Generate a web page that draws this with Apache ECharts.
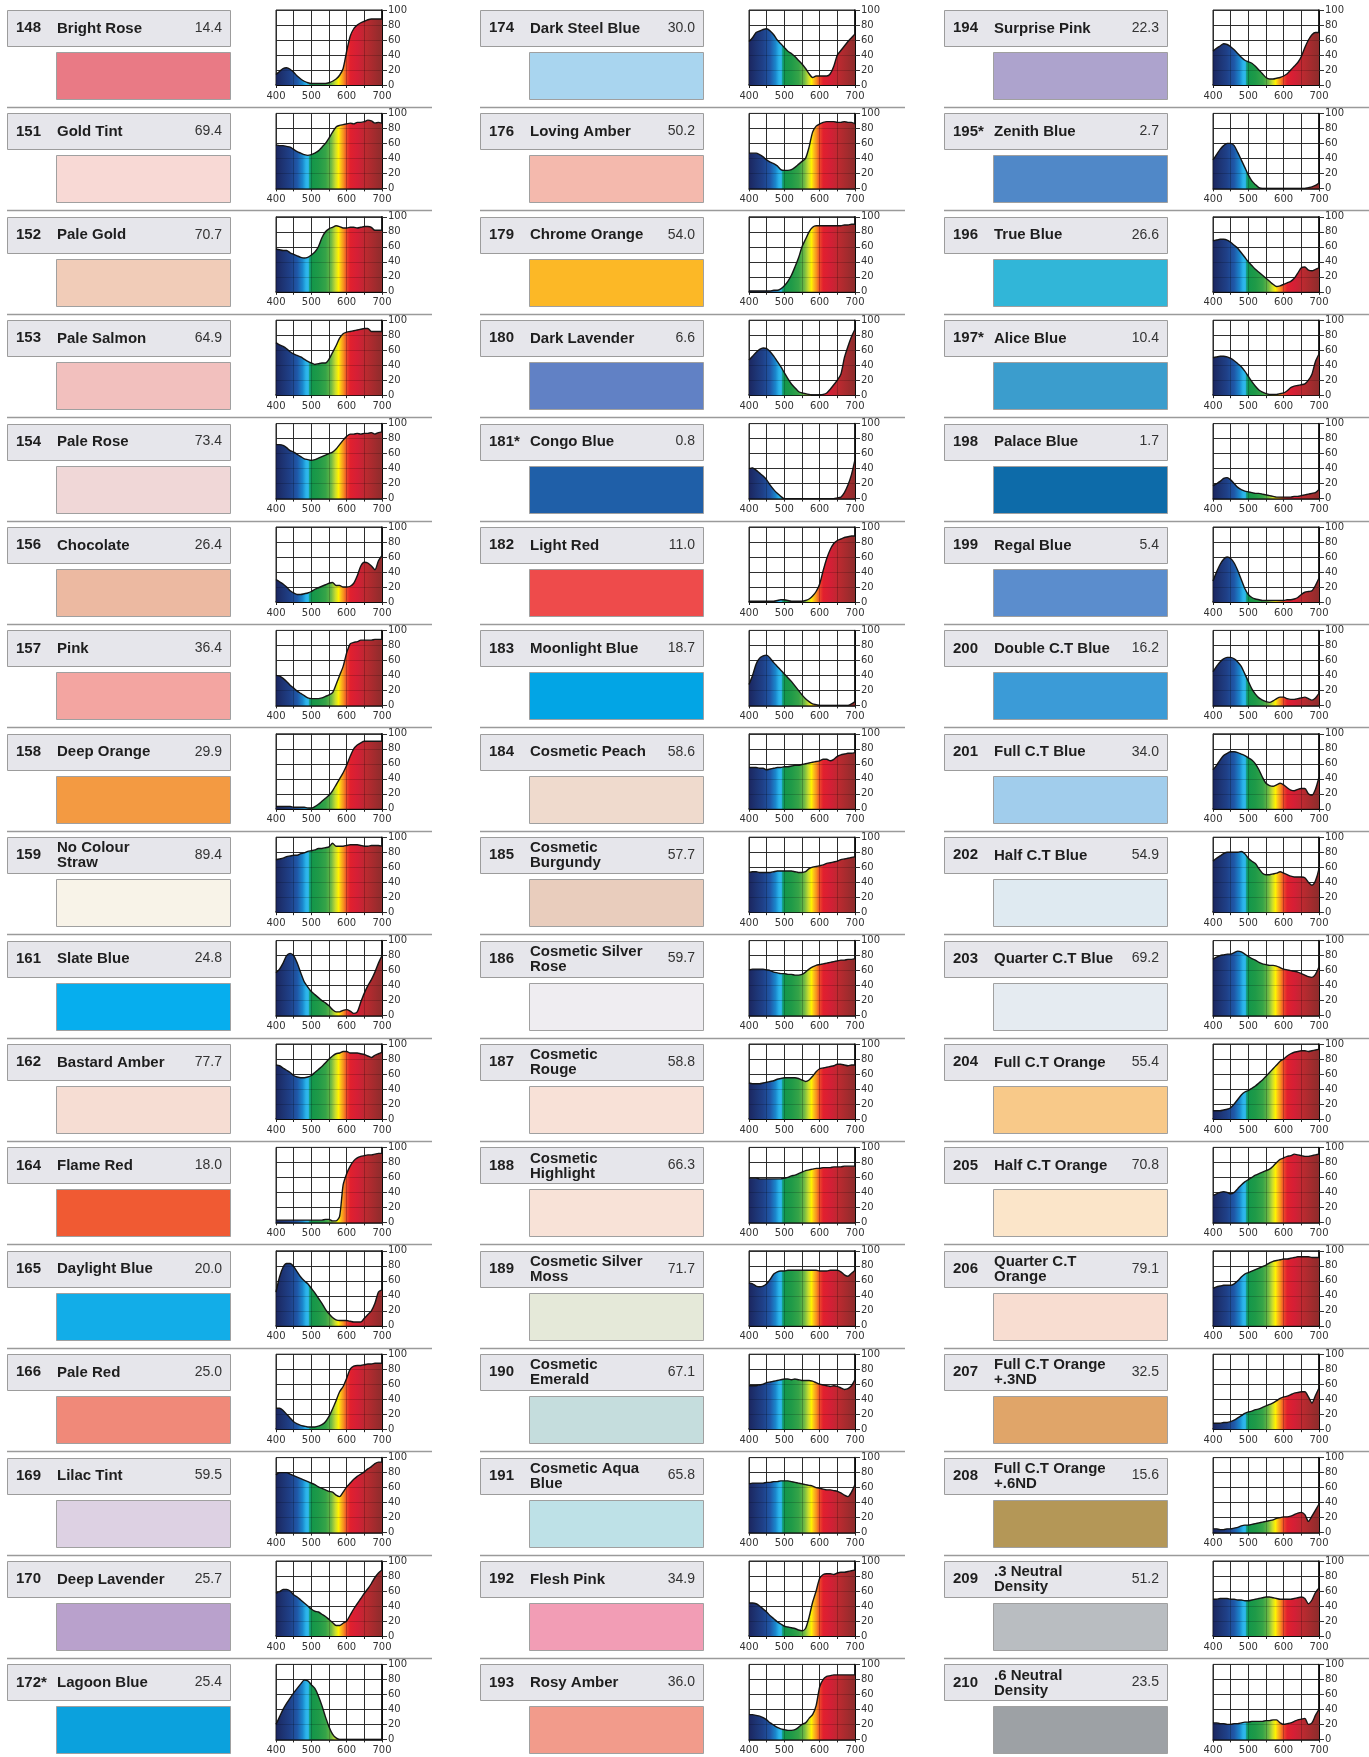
<!DOCTYPE html>
<html>
<head>
<meta charset="utf-8">
<script src="https://cdn.jsdelivr.net/npm/echarts@6/dist/echarts.min.js"></script>
<style>
html,body{margin:0;padding:0;background:#fff;}
#chart{width:1369px;height:1757px;}
</style>
</head>
<body>
<div id="chart"></div>
<script>
// ---------- DATA ----------
const wavelengths = [400,410,420,430,440,450,460,470,480,490,500,510,520,530,540,550,560,570,580,590,600,610,620,630,640,650,660,670,680,690,700];
const xTickLabels = [400, 500, 600, 700];
const yTickLabels = [0, 20, 40, 60, 80, 100];

const filterNumbers = [
  '148','151','152','153','154','156','157','158','159','161','162','164','165','166','169','170','172*',
  '174','176','179','180','181*','182','183','184','185','186','187','188','189','190','191','192','193',
  '194','195*','196','197*','198','199','200','201','202','203','204','205','206','207','208','209','210'
];
const filterNames = [
  'Bright Rose','Gold Tint','Pale Gold','Pale Salmon','Pale Rose','Chocolate','Pink','Deep Orange','No Colour\nStraw','Slate Blue','Bastard Amber','Flame Red','Daylight Blue','Pale Red','Lilac Tint','Deep Lavender','Lagoon Blue',
  'Dark Steel Blue','Loving Amber','Chrome Orange','Dark Lavender','Congo Blue','Light Red','Moonlight Blue','Cosmetic Peach','Cosmetic\nBurgundy','Cosmetic Silver\nRose','Cosmetic\nRouge','Cosmetic\nHighlight','Cosmetic Silver\nMoss','Cosmetic\nEmerald','Cosmetic Aqua\nBlue','Flesh Pink','Rosy Amber',
  'Surprise Pink','Zenith Blue','True Blue','Alice Blue','Palace Blue','Regal Blue','Double C.T Blue','Full C.T Blue','Half C.T Blue','Quarter C.T Blue','Full C.T Orange','Half C.T Orange','Quarter C.T\nOrange','Full C.T Orange\n+.3ND','Full C.T Orange\n+.6ND','.3 Neutral\nDensity','.6 Neutral\nDensity'
];
const transmissions = [
  '14.4','69.4','70.7','64.9','73.4','26.4','36.4','29.9','89.4','24.8','77.7','18.0','20.0','25.0','59.5','25.7','25.4',
  '30.0','50.2','54.0','6.6','0.8','11.0','18.7','58.6','57.7','59.7','58.8','66.3','71.7','67.1','65.8','34.9','36.0',
  '22.3','2.7','26.6','10.4','1.7','5.4','16.2','34.0','54.9','69.2','55.4','70.8','79.1','32.5','15.6','51.2','23.5'
];
const swatchColors = [
  '#e97a85','#f8d9d5','#f1ccb8','#f2c0be','#f0d7d7','#ecb9a1','#f3a5a1','#f39a42','#f8f3e8','#06aeee','#f6ddd3','#f05a33','#12ade8','#f08979','#ddd1e3','#b9a1cc','#0ba1dd',
  '#a9d5ef','#f4b9ad','#fcb826','#6181c5','#1f5fa8','#ee4b4b','#02a5e5','#efdacd','#e9cdbd','#efedf1','#f8e1d7','#f8e2d7','#e5e9d9','#c5dddd','#bee1e7','#f29db5','#f29b8b',
  '#ada3cd','#5088c8','#31b6d8','#3b9dcd','#0d6ba9','#5b8dcd','#3b9bd7','#a1cdec','#dfeaf1','#e5ebf1','#f8c989','#fbe5c9','#f8ddd1','#e0a569','#b49757','#b9bdc1','#9da1a5'
];
const curves = [
  [14,18,22,23,21,17,12,8,5,3,2,2,2,2,2,3,5,8,13,22,45,65,75,80,83,85,87,88,88,88,88],
  [58,57,57,56,55,52,49,47,45,44,45,47,50,55,60,67,75,82,84,85,86,87,86,88,88,89,91,90,87,88,87],
  [57,56,55,55,52,50,48,46,45,46,49,53,60,72,80,84,86,88,87,85,85,86,86,85,86,87,87,86,82,82,82],
  [70,67,65,62,58,55,53,51,48,45,43,41,42,43,43,48,57,66,76,82,84,85,86,87,88,89,89,85,85,85,85],
  [72,72,71,68,64,62,59,56,53,52,51,52,54,56,58,60,62,66,72,78,83,86,86,87,86,87,87,88,86,88,89],
  [30,27,24,20,15,12,10,10,11,12,14,17,19,21,23,25,26,22,22,20,20,21,25,35,48,53,52,48,43,55,62],
  [40,39,36,32,27,23,19,16,13,10,9,9,9,10,12,14,17,28,40,52,70,82,84,85,87,87,87,87,88,88,88],
  [3,3,3,3,3,2,2,2,2,1,1,3,6,10,14,18,24,32,40,48,58,70,80,85,88,90,90,90,90,90,90],
  [70,71,72,74,75,76,76,78,79,81,82,83,85,85,86,87,92,88,88,88,89,90,90,90,89,88,88,89,89,89,88],
  [57,62,70,80,83,80,70,57,45,38,32,28,24,20,17,13,8,5,5,7,8,6,3,5,18,30,40,48,58,70,80],
  [72,71,68,65,62,58,56,55,55,56,58,62,66,70,75,80,84,87,88,90,90,88,88,88,87,86,84,82,85,87,89],
  [3,3,3,3,3,3,3,3,3,3,3,3,3,3,4,4,2,2,8,50,65,75,82,86,88,89,90,90,91,92,92],
  [45,65,78,83,83,79,72,65,60,56,50,44,37,30,22,16,11,8,7,7,7,6,5,5,5,10,15,20,30,45,48],
  [28,28,25,20,15,10,7,5,4,3,3,3,4,6,10,17,27,38,50,57,68,80,84,85,85,86,87,87,88,88,88],
  [77,80,80,80,78,76,74,72,70,68,66,64,61,59,57,55,54,50,48,54,61,66,71,75,78,81,85,88,92,94,94],
  [57,59,62,62,60,55,52,48,44,40,36,33,32,29,26,22,18,14,14,17,20,28,36,43,50,57,63,70,78,84,88],
  [20,30,40,48,55,62,68,74,79,78,73,68,58,45,30,17,7,2,0,0,0,0,0,0,0,0,0,0,0,0,0],

  [58,63,70,72,74,75,72,67,60,55,50,45,42,38,33,28,22,15,10,12,12,12,12,15,25,40,46,52,58,63,68],
  [47,47,47,45,42,38,35,33,30,25,24,24,25,28,32,36,40,55,75,83,86,88,89,89,89,88,88,89,88,88,86],
  [1,1,1,1,1,1,1,2,2,4,8,14,22,33,45,60,70,80,86,88,88,88,88,88,88,88,88,89,89,90,90],
  [47,52,57,61,63,62,58,52,45,38,30,22,15,10,5,3,2,1,0,0,0,1,3,8,14,20,28,50,65,78,88],
  [40,41,38,34,30,25,18,12,7,3,0,0,0,0,0,0,0,0,0,0,0,0,0,0,0,1,2,8,18,32,52],
  [1,1,1,1,1,1,1,1,2,3,3,2,1,1,1,1,2,4,8,14,24,42,58,70,78,82,84,86,87,88,88],
  [28,40,55,63,66,67,63,57,52,47,42,37,32,26,20,14,9,5,2,1,0,0,0,0,0,0,0,0,0,2,5],
  [55,55,55,54,54,52,53,54,55,55,56,56,57,58,58,59,60,61,62,63,64,66,66,64,66,70,72,73,74,74,75],
  [53,54,54,53,53,53,53,54,55,55,55,55,55,54,53,53,54,58,60,61,62,63,65,66,67,68,70,71,72,73,74],
  [61,62,62,62,62,61,60,58,57,56,56,55,55,54,54,55,58,62,65,67,68,69,70,71,72,73,74,74,75,75,76],
  [48,47,47,47,48,49,50,51,53,54,55,55,55,55,54,52,50,52,57,63,67,68,69,70,71,73,73,72,71,72,72],
  [59,59,59,58,58,58,58,58,58,58,59,60,62,63,65,67,69,70,71,72,72,73,73,73,74,74,74,75,75,75,75],
  [57,56,53,52,53,56,62,69,72,73,73,74,74,74,74,74,74,74,74,74,73,73,73,74,74,74,72,68,66,70,74],
  [58,58,58,59,60,62,63,64,65,66,67,67,66,67,66,65,65,65,64,62,60,59,58,57,58,57,55,53,54,58,66],
  [65,66,66,66,66,67,67,68,68,69,69,69,68,67,66,65,64,63,62,60,59,58,57,57,56,55,53,50,48,54,64],
  [44,44,43,40,36,32,27,23,19,16,13,12,11,10,8,7,10,25,45,60,77,82,83,83,82,84,85,85,86,87,88],
  [33,33,32,31,29,26,22,19,16,14,13,12,12,13,16,20,22,28,33,45,70,80,84,85,86,86,86,86,86,86,86],

  [45,49,52,55,54,51,47,42,37,33,31,29,25,20,15,10,8,8,9,10,12,15,20,25,30,38,50,60,67,70,70],
  [38,45,52,57,60,60,57,48,38,28,18,10,5,1,0,0,0,0,0,0,0,0,0,0,0,0,0,1,2,4,7],
  [68,69,70,70,69,66,62,58,52,46,40,35,30,26,22,18,14,10,7,8,10,12,14,18,25,32,33,29,28,30,32],
  [50,51,52,52,51,49,46,42,38,32,25,18,12,7,4,2,1,1,1,2,3,6,10,12,13,14,15,20,28,45,55],
  [17,20,23,27,28,25,20,15,12,10,9,8,7,7,6,5,4,3,2,2,2,2,2,3,3,4,5,6,7,8,12],
  [28,40,50,57,60,58,52,42,30,18,10,6,4,3,2,2,2,2,2,2,2,3,3,4,6,10,13,14,15,22,32],
  [45,52,58,62,64,64,62,58,52,42,32,22,15,10,7,5,4,6,9,11,11,9,8,8,9,10,11,9,7,10,16],
  [52,58,65,71,74,76,76,75,73,71,68,65,60,52,42,34,31,30,32,34,32,28,25,24,26,27,27,20,18,26,42],
  [68,72,75,78,80,80,80,80,81,78,72,68,65,58,52,50,50,51,52,54,52,50,48,47,47,47,46,40,36,42,58],
  [75,78,80,81,82,82,84,86,85,82,79,76,74,71,69,68,67,67,66,64,62,61,60,59,58,56,54,52,51,55,65],
  [11,11,11,12,13,15,20,26,32,36,38,41,44,48,52,57,62,67,72,77,80,84,87,89,90,91,91,90,91,92,93],
  [36,38,40,41,40,38,40,45,50,54,57,60,63,65,67,69,71,75,80,84,86,88,89,91,90,89,88,88,89,90,91],
  [50,52,53,54,54,54,56,60,65,69,71,73,75,77,79,81,84,86,87,88,89,89,90,91,92,92,92,92,91,91,91],
  [8,8,8,9,9,10,12,15,18,21,23,24,26,27,29,31,33,35,38,41,43,44,46,48,49,50,50,43,35,45,55],
  [5,5,4,4,5,5,6,7,9,10,10,11,12,13,14,15,16,17,19,20,21,21,22,24,26,27,24,15,22,30,38],
  [49,49,50,50,50,49,49,48,48,47,47,48,49,50,51,52,52,51,50,49,49,49,49,50,51,52,50,43,48,58,64],
  [22,22,21,21,20,20,21,21,22,23,23,24,24,24,24,25,25,26,26,22,20,21,22,24,26,27,28,20,22,32,40]
];

// ---------- LAYOUT ----------
const colX = [7, 480, 944];
const rowsPerCol = 17;
const rowTop0 = 10, rowPitch = 103.4;
const FONT = '"Liberation Sans", Arial, Helvetica, sans-serif';
const TICKFONT = '"DejaVu Sans", sans-serif';

const spectrumStops = [
  [0.000,'#1b2660'],[0.060,'#1d3372'],[0.130,'#1f4088'],[0.200,'#1f58a8'],
  [0.250,'#1b86cc'],[0.283,'#2ab4ea'],[0.305,'#30b8ec'],[0.318,'#109c78'],
  [0.340,'#14974a'],[0.400,'#1f9a48'],[0.470,'#36a448'],[0.520,'#6cb845'],
  [0.560,'#c8dc30'],[0.590,'#fff200'],[0.610,'#fcc21a'],[0.640,'#f68a20'],
  [0.665,'#ee4a2a'],[0.700,'#e2202e'],[0.770,'#d41f36'],[0.850,'#bb2a30'],[1.000,'#8d2c2c']
];
const areaGradient = {
  type:'linear', x:0, y:0, x2:1, y2:0, global:false,
  colorStops: spectrumStops.map(s => ({offset:s[0], color:s[1]}))
};

const grids = [], xAxes = [], yAxes = [], series = [], graphics = [];

for (let k = 0; k < filterNumbers.length; k++) {
  const c = Math.floor(k / rowsPerCol), r = k % rowsPerCol;
  const bx = colX[c];
  const top = rowTop0 + r * rowPitch;

  // label box
  graphics.push({type:'rect', shape:{x:bx+0.5, y:Math.round(top)+0.5, width:223, height:36},
    style:{fill:'#e6e6eb', stroke:'#9c9c9c', lineWidth:1}});
  graphics.push({type:'text', style:{x:bx+9, y:top+18, text:filterNumbers[k], fill:'#1e1e1e',
    font:'bold 15px ' + FONT, align:'left', verticalAlign:'middle'}});
  graphics.push({type:'text', style:{x:bx+50, y:top+18.5, text:filterNames[k], fill:'#1e1e1e',
    font:'bold 15px ' + FONT, align:'left', verticalAlign:'middle', lineHeight:15}});
  graphics.push({type:'text', style:{x:bx+215, y:top+18, text:transmissions[k], fill:'#333',
    font:'14px ' + FONT, align:'right', verticalAlign:'middle'}});
  // swatch
  graphics.push({type:'rect', shape:{x:bx+49.5, y:Math.round(top)+42.5, width:174, height:47},
    style:{fill:swatchColors[k], stroke:'#a0a0a0', lineWidth:1}});
  // separator
  if (r < rowsPerCol - 1) {
    const sy = Math.round(top + 97) + 0.5;
    graphics.push({type:'line', shape:{x1:bx, y1:sy, x2:bx+425, y2:sy},
      style:{stroke:'#9a9a9a', lineWidth:1.5}});
  }

  grids.push({left:bx+269, top:top, width:106, height:75, show:true,
    borderColor:'#222', borderWidth:1, backgroundColor:'#fff'});

  // main axes (below the curve)
  xAxes.push({type:'value', gridIndex:k, position:'bottom', min:400, max:700, interval:50,
    axisLine:{show:true, onZero:false, lineStyle:{color:'#000', width:1.5}},
    axisTick:{show:true, length:3, lineStyle:{color:'#222'}},
    splitLine:{show:true, lineStyle:{color:'#3a3a3a', width:1}},
    axisLabel:{show:true, fontSize:10, fontFamily:TICKFONT, color:'#333', margin:6,
      formatter: v => xTickLabels.indexOf(v) >= 0 ? String(v) : ''}
  });
  yAxes.push({type:'value', gridIndex:k, position:'right', min:0, max:100, interval:20,
    axisLine:{show:true, lineStyle:{color:'#000', width:1.5}},
    axisTick:{show:true, length:5, lineStyle:{color:'#333'}},
    splitLine:{show:true, lineStyle:{color:'#3a3a3a', width:1}},
    axisLabel:{show:true, fontSize:10, fontFamily:TICKFONT, color:'#333', margin:6,
      formatter: v => yTickLabels.indexOf(v) >= 0 ? String(v) : ''}
  });
  series.push({type:'line', xAxisIndex:k, yAxisIndex:k, showSymbol:false, symbol:'none',
    smooth:0.25, silent:true, animation:false, z:2,
    data: wavelengths.map((w, i) => [w, curves[k][i]]),
    lineStyle:{color:'#151515', width:1.4},
    areaStyle:{color:areaGradient, opacity:1, origin:'start'}
  });
}

// faint overlay grid lines drawn over the coloured area
const n = filterNumbers.length;
for (let k = 0; k < n; k++) {
  xAxes.push({type:'value', gridIndex:k, position:'top', min:400, max:700, interval:50, z:5,
    axisLine:{show:false}, axisTick:{show:false}, axisLabel:{show:false},
    splitLine:{show:true, lineStyle:{color:'rgba(0,0,0,0.22)', width:1}}});
  yAxes.push({type:'value', gridIndex:k, position:'left', min:0, max:100, interval:20, z:5,
    axisLine:{show:false}, axisTick:{show:false}, axisLabel:{show:false},
    splitLine:{show:true, lineStyle:{color:'rgba(0,0,0,0.18)', width:1}}});
}

const chart = echarts.init(document.getElementById('chart'), null, {renderer:'canvas'});
chart.setOption({
  animation:false,
  backgroundColor:'#fff',
  grid:grids, xAxis:xAxes, yAxis:yAxes, series:series,
  graphic:{elements:graphics}
});
</script>
</body>
</html>
